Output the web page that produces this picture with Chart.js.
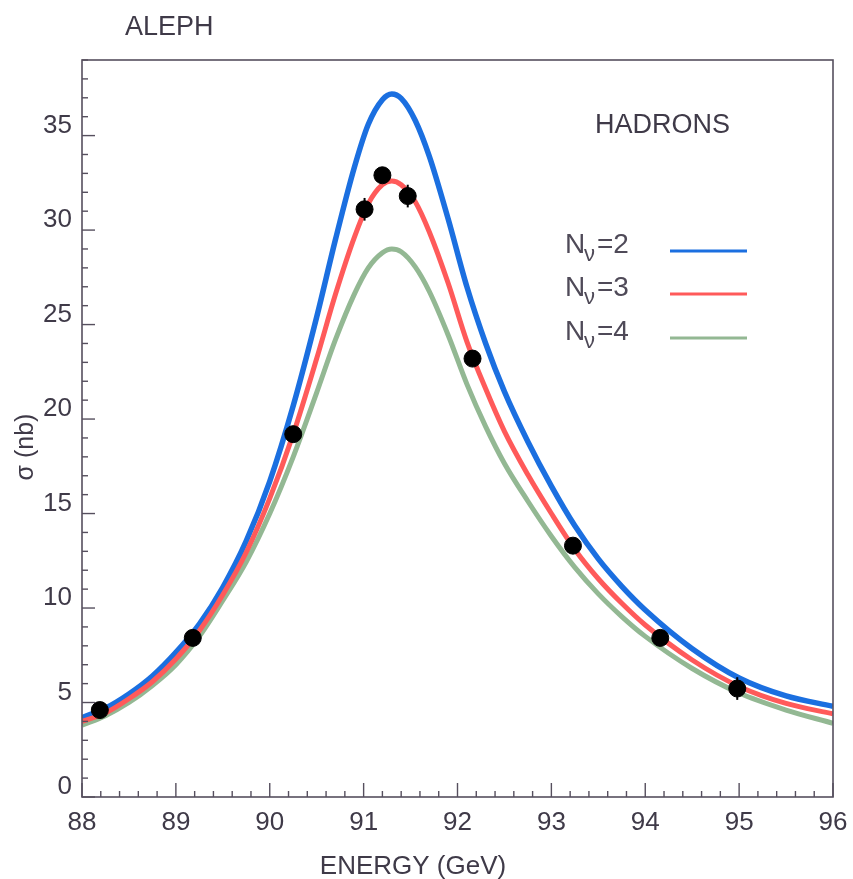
<!DOCTYPE html>
<html>
<head>
<meta charset="utf-8">
<script src="https://cdn.jsdelivr.net/npm/chart.js@4"></script>
<style>
  html, body { margin: 0; padding: 0; background: #fff; }
</style>
</head>
<body>
<canvas id="grafica" width="853" height="879"></canvas>
<script>
// energias donde se leen las curvas (GeV)
const energias = [88, 88.25, 88.5, 88.75, 89, 89.25, 89.5, 89.75, 90, 90.25, 90.5, 90.7, 90.9, 91.05, 91.2, 91.3,
  91.4, 91.55, 91.7, 91.9, 92.1, 92.3, 92.5, 92.75, 93, 93.25, 93.5, 93.75, 94, 94.5, 95, 95.5, 96];
// seccion eficaz (nb) para cada numero de neutrinos
const nu2 = [4.2, 4.7, 5.45, 6.4, 7.65, 9.15, 11.1, 13.55, 16.7, 20.7, 25.4, 29.5, 33.3, 35.6, 36.9, 37.2,
  36.97, 35.8, 33.9, 30.6, 27.0, 24.0, 21.45, 18.8, 16.45, 14.35, 12.6, 11.15, 9.9, 7.85, 6.3, 5.35, 4.8];
const nu3 = [4.0, 4.45, 5.2, 6.1, 7.3, 8.8, 10.7, 12.95, 15.8, 19.2, 23.2, 26.6, 29.6, 31.4, 32.4, 32.6,
  32.4, 31.5, 29.9, 27.2, 24.1, 21.6, 19.35, 17.05, 15.0, 13.1, 11.55, 10.25, 9.1, 7.25, 5.85, 4.95, 4.4];
const nu4 = [3.8, 4.3, 5.0, 5.9, 7.0, 8.5, 10.4, 12.45, 15.0, 18.0, 21.4, 24.2, 26.6, 28.0, 28.8, 29.0,
  28.85, 28.05, 26.75, 24.45, 21.85, 19.6, 17.65, 15.65, 13.8, 12.15, 10.75, 9.55, 8.5, 6.8, 5.5, 4.6, 3.9];

// medidas ALEPH
const medE = [88.19, 89.18, 90.25, 91.01, 91.2, 91.47, 92.16, 93.23, 94.16, 94.98];
const medS = [4.6, 8.42, 19.2, 31.1, 32.9, 31.8, 23.2, 13.3, 8.42, 5.74];
const medErr = [0.3, 0.3, 0.4, 0.6, 0.4, 0.6, 0.4, 0.4, 0.4, 0.6];

const leyenda = ['2', '3', '4'];
const colores = ['#1b6fe0', '#ff5a5a', '#93b893'];

const fuente = '"Liberation Sans", Arial, sans-serif';
const gris = '#3f3a48';

function serie(vals) {
  return energias.map((e, i) => ({ x: e, y: vals[i] }));
}

const marcoPlugin = {
  id: 'marco',
  afterDatasetsDraw(chart) {
    const { ctx, scales: { x, y } } = chart;
    // barras de error
    ctx.save();
    ctx.strokeStyle = '#000';
    ctx.lineWidth = 2;
    medE.forEach((e, i) => {
      const px = x.getPixelForValue(e);
      ctx.beginPath();
      ctx.moveTo(px, y.getPixelForValue(medS[i] - medErr[i]));
      ctx.lineTo(px, y.getPixelForValue(medS[i] + medErr[i]));
      ctx.stroke();
    });
    ctx.restore();
  },
  afterDraw(chart) {
    const { ctx, chartArea: a, scales: { x, y } } = chart;
    ctx.save();
    ctx.strokeStyle = '#564f5e';
    ctx.lineWidth = 1.6;
    ctx.strokeRect(a.left, a.top, a.right - a.left, a.bottom - a.top);

    // ticks hacia dentro
    ctx.lineWidth = 1.4;
    for (let i = 0; i <= 40; i++) {
      const px = x.getPixelForValue(88 + i * 0.2);
      const len = i % 5 === 0 ? 14 : 6;
      ctx.beginPath();
      ctx.moveTo(px, a.bottom);
      ctx.lineTo(px, a.bottom - len);
      ctx.stroke();
    }
    for (let v = 0; v <= 39; v++) {
      const py = y.getPixelForValue(v);
      const len = v % 5 === 0 ? 13 : 6;
      ctx.beginPath();
      ctx.moveTo(a.left, py);
      ctx.lineTo(a.left + len, py);
      ctx.stroke();
    }

    // textos
    ctx.fillStyle = gris;
    ctx.textBaseline = 'alphabetic';
    ctx.textAlign = 'left';
    ctx.font = '27px ' + fuente;
    ctx.fillText('ALEPH', 125, 35);
    ctx.fillText('HADRONS', 595, 133);

    ctx.textAlign = 'center';
    ctx.font = '26px ' + fuente;
    ctx.fillText('ENERGY (GeV)', 413, 874);

    ctx.save();
    ctx.translate(33, 447);
    ctx.rotate(-Math.PI / 2);
    ctx.font = '25px ' + fuente;
    ctx.fillText('σ (nb)', 0, 0);
    ctx.restore();

    // leyenda
    ctx.textAlign = 'left';
    const filas = [253, 296, 340];
    leyenda.forEach((n, i) => {
      const base = filas[i];
      ctx.fillStyle = '#4f4a58';
      ctx.font = '28px ' + fuente;
      ctx.fillText('N', 565, base);
      ctx.font = '22px ' + fuente;
      ctx.fillText('ν', 584, base + 8);
      ctx.font = '28px ' + fuente;
      ctx.fillText('=' + n, 597, base);
      ctx.strokeStyle = colores[i];
      ctx.lineWidth = 3;
      ctx.beginPath();
      ctx.moveTo(670, base - 2);
      ctx.lineTo(747, base - 2);
      ctx.stroke();
    });
    ctx.restore();
  }
};

const curva = (vals, color, w) => ({
  type: 'line',
  data: serie(vals),
  borderColor: color,
  borderWidth: w,
  pointRadius: 0,
  fill: false,
  cubicInterpolationMode: 'monotone'
});

new Chart(document.getElementById('grafica').getContext('2d'), {
  type: 'line',
  data: {
    datasets: [
      {
        type: 'scatter',
        data: medE.map((e, i) => ({ x: e, y: medS[i] })),
        backgroundColor: '#000',
        borderColor: '#000',
        pointRadius: 8.5,
        order: 0
      },
      Object.assign(curva(nu3, colores[1], 5), { order: 1 }),
      Object.assign(curva(nu2, colores[0], 5.5), { order: 2 }),
      Object.assign(curva(nu4, colores[2], 5), { order: 3 })
    ]
  },
  options: {
    responsive: false,
    animation: false,
    layout: { padding: { top: 60, right: 20, left: 0, bottom: 0 } },
    plugins: { legend: { display: false }, tooltip: { enabled: false } },
    scales: {
      x: {
        type: 'linear',
        min: 88, max: 96,
        grid: { display: false, drawTicks: false },
        border: { display: false },
        ticks: { stepSize: 1, padding: 10, color: gris, font: { size: 26, family: fuente }, maxRotation: 0 },
        afterFit(s) { s.height = 82; s.paddingLeft = 0; s.paddingRight = 0; }
      },
      y: {
        min: 0, max: 39,
        grid: { display: false, drawTicks: false },
        border: { display: false },
        ticks: {
          stepSize: 5, padding: 10, labelOffset: -10, color: gris,
          font: { size: 26, family: fuente },
          callback: v => (v % 5 === 0 && v <= 35) ? String(v) : null
        },
        afterFit(s) { s.width = 82; s.paddingTop = 0; s.paddingBottom = 0; }
      }
    }
  },
  plugins: [marcoPlugin]
});
</script>
</body>
</html>
